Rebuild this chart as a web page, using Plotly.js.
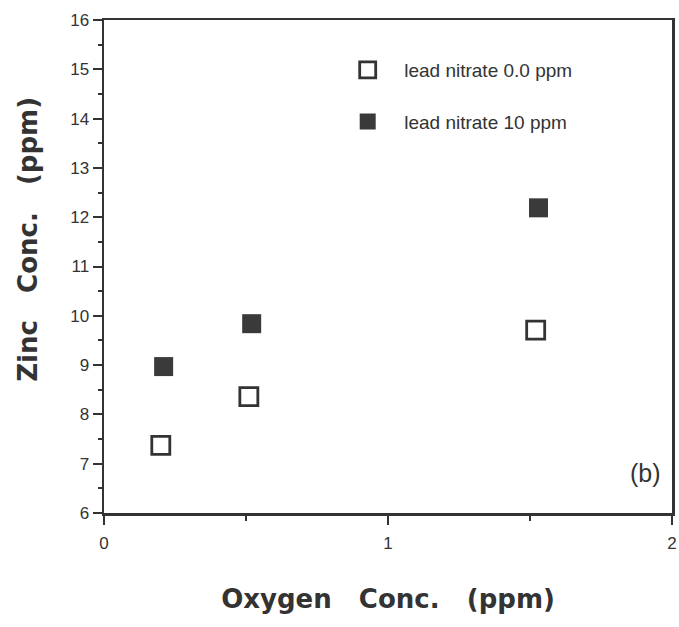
<!DOCTYPE html>
<html>
<head>
<meta charset="utf-8">
<script src="https://cdn.plot.ly/plotly-3.0.1.min.js"></script>
<style>html,body{margin:0;padding:0;background:#fff;}#chart{width:679px;height:627px;}</style>
</head>
<body>
<div id="chart"></div>
<script>
// Data
const oxygen0 = [0.20, 0.51, 1.52];
const zinc0 = [7.37, 8.36, 9.71];
const oxygen10 = [0.21, 0.52, 1.53];
const zinc10 = [8.97, 9.84, 12.19];
const seriesNames = ["lead nitrate 0.0 ppm", "lead nitrate 10 ppm"];
const xTicks = [0, 1, 2];
const yTicks = [6, 7, 8, 9, 10, 11, 12, 13, 14, 15, 16];
const xTitle = "Oxygen Conc. (ppm)";
const yTitle = "Zinc Conc. (ppm)";

const ink = "#333";
const spaced = s => "<b>" + s.split(" ").join("\u00a0\u00a0\u00a0") + "</b>";
const traces = [
  {x: oxygen0, y: zinc0, mode: "markers", type: "scatter", name: seriesNames[0], legendgroup: "a",
   marker: {symbol: "square-open", size: 18, color: ink, line: {width: 2.8, color: ink}}},
  {x: oxygen10, y: zinc10, mode: "markers", type: "scatter", name: seriesNames[1], legendgroup: "b",
   marker: {symbol: "square", size: 19, color: "#3a3a3a", line: {width: 0}}}
];

const layout = {
  width: 679, height: 627,
  margin: {l: 104, r: 7, t: 20, b: 114},
  paper_bgcolor: "#fff", plot_bgcolor: "#fff",
  font: {family: "Liberation Sans, Arial, sans-serif", color: ink},
  showlegend: true,
  legend: {x: 0.400, y: 0.937, xanchor: "left", yanchor: "top", bgcolor: "rgba(0,0,0,0)",
           font: {size: 19, color: ink}, itemsizing: "trace", tracegroupgap: 24, itemwidth: 63,
           traceorder: "grouped"},
  xaxis: {range: [0, 2], tickvals: xTicks, ticktext: xTicks.map(String),
          showgrid: false, zeroline: false, showline: true, linecolor: ink, linewidth: 2.5,
          mirror: true, ticks: "outside", ticklen: 9, tickwidth: 2, tickcolor: ink,
          minor: {dtick: 0.5, ticks: "outside", ticklen: 5, tickwidth: 2, tickcolor: ink},
          tickfont: {size: 17, color: ink}, ticklabelstandoff: 4,
          title: {text: spaced(xTitle),
                  font: {family: "DejaVu Sans, sans-serif", size: 26, color: ink}, standoff: 38}},
  yaxis: {range: [6, 16], tickvals: yTicks, ticktext: yTicks.map(String),
          showgrid: false, zeroline: false, showline: true, linecolor: ink, linewidth: 2.5,
          mirror: true, ticks: "outside", ticklen: 9, tickwidth: 2, tickcolor: ink,
          minor: {dtick: 0.5, ticks: "outside", ticklen: 4, tickwidth: 2, tickcolor: ink},
          tickfont: {size: 17, color: ink}},
  annotations: [
    {x: 0.984, y: 0.081, xref: "paper", yref: "paper", xanchor: "right", yanchor: "middle",
     text: "(b)", showarrow: false, font: {size: 25, color: ink}},
    {x: -0.134, y: 0.556, xref: "paper", yref: "paper", xanchor: "center", yanchor: "middle",
     textangle: -90, text: spaced(yTitle), showarrow: false,
     font: {family: "DejaVu Sans, sans-serif", size: 26, color: ink}}
  ]
};

Plotly.newPlot("chart", traces, layout, {displayModeBar: false, staticPlot: true});
</script>
</body>
</html>
